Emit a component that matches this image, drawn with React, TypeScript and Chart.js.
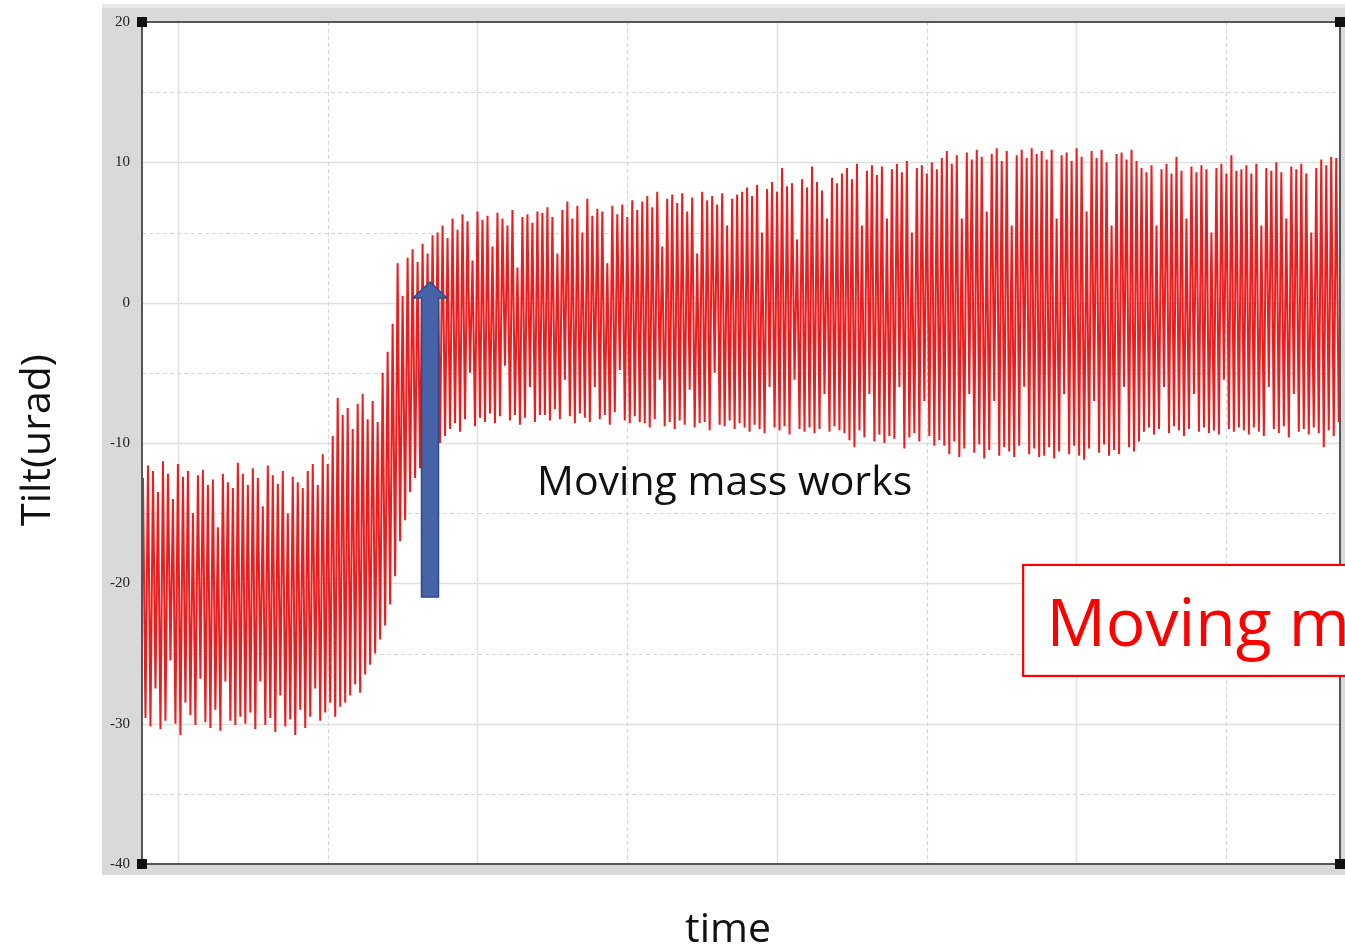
import React, { useEffect, useRef } from 'react';
import { Chart, registerables } from 'chart.js';

Chart.register(...registerables);

// ---- data (one high and one low per oscillation) ----
const PEAKS: number[] = [
  -12.5, -11.6, -12.0, -13.5, -11.3, -12.2, -14.0, -11.5, -12.4, -12.0, -15.0, -12.3, -11.9, -13.0, -12.6, -16.0, -12.2, -12.8, -13.2, -11.4,
  -12.2, -13.0, -11.8, -12.5, -14.5, -11.6, -12.3, -12.9, -12.0, -15.0, -12.4, -12.8, -13.2, -12.0, -11.5, -13.0, -10.8, -11.5, -9.5, -6.8,
  -8.0, -7.5, -9.0, -7.2, -6.5, -8.3, -7.0, -8.5, -5.0, -3.5, -1.5, 2.8, 0.5, 3.2, 3.8, 2.9, 4.2, 3.5, 4.8, 5.0,
  5.5, 4.6, 6.0, 5.2, 6.3, 5.8, 3.0, 6.5, 5.9, 6.2, 4.0, 6.4, 6.0, 5.5, 6.6, 2.5, 6.1, 6.3, 5.7, 6.5,
  6.4, 6.8, 6.1, 3.5, 6.6, 7.2, 6.0, 6.9, 5.0, 7.4, 6.2, 6.7, 6.5, 2.8, 6.9, 6.3, 7.0, 6.1, 7.3, 6.6,
  7.2, 7.6, 6.8, 7.9, 4.0, 7.4, 7.7, 7.1, 7.8, 6.5, 7.5, 3.5, 7.9, 7.3, 7.6, 7.0, 7.8, 5.5, 7.4, 7.7,
  7.9, 8.2, 7.6, 8.4, 5.0, 8.1, 8.6, 7.9, 9.6, 8.3, 8.5, 4.5, 8.8, 8.2, 9.7, 8.6, 8.0, 6.0, 8.9, 8.5,
  9.2, 9.6, 8.8, 9.9, 5.5, 9.4, 9.8, 9.1, 9.7, 6.0, 9.5, 9.9, 9.3, 10.1, 5.0, 9.6, 9.8, 9.2, 10.0, 9.5,
  10.3, 10.8, 9.9, 10.5, 6.0, 10.7, 10.2, 10.9, 10.4, 6.5, 10.6, 11.0, 10.1, 10.8, 5.5, 10.5, 10.9, 10.3, 11.0, 10.6,
  10.8, 10.2, 10.9, 6.0, 10.5, 10.7, 10.1, 11.0, 10.4, 6.5, 10.8, 10.3, 10.9, 10.0, 5.5, 10.6, 10.7, 10.2, 10.9, 10.1,
  9.6, 9.3, 9.8, 5.5, 9.5, 9.9, 9.2, 10.4, 9.4, 6.0, 9.7, 9.3, 9.8, 9.5, 5.0, 9.6, 9.9, 9.2, 10.5, 9.4,
  9.5, 9.8, 9.2, 9.9, 5.5, 9.6, 9.4, 10.0, 9.3, 6.0, 9.7, 9.5, 9.9, 9.2, 5.0, 9.6, 10.2, 9.8, 10.4, 10.3,
];

const TROUGHS: number[] = [
  -29.6, -30.2, -27.5, -30.4, -29.8, -25.5, -30.0, -30.8, -28.5, -29.4, -30.1, -26.8, -29.9, -30.3, -29.0, -30.5, -27.0, -29.8, -30.1, -29.5,
  -30.0, -29.2, -30.4, -27.0, -30.1, -29.6, -30.6, -28.0, -30.2, -29.7, -30.8, -29.0, -30.3, -29.5, -27.5, -29.8, -29.2, -28.5, -29.5, -28.8,
  -28.5, -28.0, -27.2, -27.8, -26.5, -25.8, -25.0, -24.0, -23.0, -21.5, -19.5, -17.0, -15.5, -13.5, -12.5, -11.8, -10.8, -11.2, -9.8, -10.0,
  -9.5, -9.0, -8.6, -9.2, -8.3, -5.0, -8.8, -8.2, -8.5, -7.9, -8.6, -8.1, -4.5, -8.4, -8.0, -8.7, -8.2, -6.0, -8.5, -8.0,
  -8.0, -8.4, -7.6, -8.3, -5.5, -8.1, -8.6, -7.9, -8.2, -8.5, -6.0, -8.3, -8.0, -8.7, -7.8, -4.8, -8.4, -8.6, -8.1, -8.5,
  -8.6, -8.9, -8.3, -5.5, -8.8, -8.5, -9.0, -8.4, -8.7, -6.2, -8.9, -8.6, -8.5, -9.1, -5.0, -8.7, -8.8, -8.4, -9.0, -8.6,
  -8.9, -9.2, -8.7, -9.0, -9.3, -6.0, -8.9, -9.1, -8.8, -9.4, -5.5, -9.0, -9.2, -8.9, -9.3, -9.0, -6.5, -9.2, -8.8, -9.1,
  -9.3, -9.8, -10.3, -9.1, -9.6, -6.5, -9.9, -9.4, -10.0, -9.5, -9.7, -6.0, -10.4, -9.6, -9.3, -9.9, -7.0, -9.5, -10.2, -9.8,
  -10.2, -10.8, -9.9, -11.0, -10.4, -6.5, -10.7, -10.1, -11.1, -10.5, -7.0, -10.9, -10.3, -10.6, -11.0, -10.2, -6.0, -10.8, -10.4, -11.0,
  -10.9, -10.3, -11.1, -10.6, -6.5, -10.8, -10.2, -10.9, -11.2, -10.4, -7.0, -10.7, -10.1, -10.9, -10.5, -10.8, -6.0, -10.3, -10.6, -9.9,
  -9.2, -8.9, -9.4, -9.0, -6.0, -9.3, -8.8, -9.1, -9.5, -9.0, -6.5, -9.2, -8.9, -9.3, -9.1, -9.4, -5.5, -9.0, -9.2, -8.9,
  -9.1, -9.4, -8.9, -9.2, -9.5, -6.0, -9.0, -9.3, -8.8, -9.6, -6.5, -9.2, -9.0, -9.4, -8.9, -9.3, -10.3, -9.1, -9.5, -8.5,
];

// sampling of the record on the time axis
const T_START = -1.167;
const T_STEP = 0.1667;

// axes
const X_MIN = -1.2;
const X_MAX = 38.8;
const Y_MIN = -40;
const Y_MAX = 20;
const Y_STEP = 10;
const X_GRID_SOLID = [0, 10, 20, 30];
const X_GRID_DASHED = [5, 15, 25, 35];
const Y_GRID_SOLID = [10, 0, -10, -20, -30];
const Y_GRID_DASHED = [15, 5, -5, -15, -25, -35];

// texts
const Y_TITLE = 'Tilt(urad)';
const X_TITLE = 'time';
const NOTE_TEXT = 'Moving mass works';
const BOX_TEXT = 'Moving m';

// annotation anchors in data units
const ARROW_T = 8.416;
const ARROW_FROM = -20.97;
const ARROW_TO = 1.47;
const NOTE_T = 11.99;
const NOTE_V = -13.71;
const BOX_T = 28.22;
const BOX_TOP = -18.69;
const BOX_BOTTOM = -26.6;
const BOX_TEXT_T = 29.0;
const BOX_TEXT_V = -24.47;

const TEXT_FONT = '"Open Sans", "Noto Sans", sans-serif';

const decorPlugin = {
  id: 'decor',
  beforeDraw(chart: any) {
    const { ctx, chartArea: a, scales } = chart;
    const xs = scales.x;
    const ys = scales.y;
    ctx.save();
    // grey frame around the plot
    ctx.fillStyle = '#d9d9d9';
    ctx.fillRect(a.left - 40, a.top - 18, chart.width - (a.left - 40), a.bottom - a.top + 29);
    ctx.fillStyle = '#e8e8e8';
    ctx.fillRect(a.left - 40, a.top - 18, chart.width - (a.left - 40), 4);
    // plot background
    ctx.fillStyle = '#ffffff';
    ctx.fillRect(a.left, a.top, a.right - a.left, a.bottom - a.top);
    // grid
    ctx.lineWidth = 1.5;
    ctx.strokeStyle = '#e0e0e0';
    ctx.setLineDash([]);
    for (const v of X_GRID_SOLID) {
      const px = Math.round(xs.getPixelForValue(v)) + 0.5;
      ctx.beginPath(); ctx.moveTo(px, a.top); ctx.lineTo(px, a.bottom); ctx.stroke();
    }
    for (const v of Y_GRID_SOLID) {
      const py = Math.round(ys.getPixelForValue(v)) + 0.5;
      ctx.beginPath(); ctx.moveTo(a.left, py); ctx.lineTo(a.right, py); ctx.stroke();
    }
    ctx.lineWidth = 1.2;
    ctx.strokeStyle = '#d6d6d6';
    ctx.setLineDash([4, 3]);
    for (const v of X_GRID_DASHED) {
      const px = Math.round(xs.getPixelForValue(v)) + 0.5;
      ctx.beginPath(); ctx.moveTo(px, a.top); ctx.lineTo(px, a.bottom); ctx.stroke();
    }
    for (const v of Y_GRID_DASHED) {
      const py = Math.round(ys.getPixelForValue(v)) + 0.5;
      ctx.beginPath(); ctx.moveTo(a.left, py); ctx.lineTo(a.right, py); ctx.stroke();
    }
    ctx.restore();
  },
  afterDatasetsDraw(chart: any) {
    const { ctx, chartArea: a } = chart;
    ctx.save();
    ctx.strokeStyle = '#555555';
    ctx.lineWidth = 2;
    ctx.strokeRect(a.left, a.top, a.right - a.left, a.bottom - a.top);
    // corner markers
    ctx.fillStyle = '#111111';
    const corners = [[a.left, a.top], [a.right, a.top], [a.left, a.bottom], [a.right, a.bottom]];
    for (const [cx, cy] of corners) {
      ctx.fillRect(cx - 5, cy - 5, 10, 10);
    }
    ctx.restore();
  },
  afterDraw(chart: any) {
    const { ctx, scales } = chart;
    const xs = scales.x;
    const ys = scales.y;
    ctx.save();
    // axis titles
    ctx.fillStyle = '#111111';
    ctx.font = `41px ${TEXT_FONT}`;
    ctx.textAlign = 'center';
    ctx.textBaseline = 'alphabetic';
    ctx.fillText(X_TITLE, 728, 942);
    ctx.save();
    ctx.translate(50, 440);
    ctx.rotate(-Math.PI / 2);
    ctx.fillText(Y_TITLE, 0, 0);
    ctx.restore();

    // note text
    ctx.textAlign = 'left';
    ctx.fillText(NOTE_TEXT, xs.getPixelForValue(NOTE_T), ys.getPixelForValue(NOTE_V));

    // arrow
    const ax = xs.getPixelForValue(ARROW_T);
    const yBot = ys.getPixelForValue(ARROW_FROM);
    const yTip = ys.getPixelForValue(ARROW_TO);
    const shaftHalf = 8.5;
    const headHalf = 17;
    const headLen = 16;
    ctx.beginPath();
    ctx.moveTo(ax - shaftHalf, yBot);
    ctx.lineTo(ax - shaftHalf, yTip + headLen);
    ctx.lineTo(ax - headHalf, yTip + headLen);
    ctx.lineTo(ax, yTip);
    ctx.lineTo(ax + headHalf, yTip + headLen);
    ctx.lineTo(ax + shaftHalf, yTip + headLen);
    ctx.lineTo(ax + shaftHalf, yBot);
    ctx.closePath();
    ctx.fillStyle = '#4763a8';
    ctx.fill();
    ctx.strokeStyle = '#2d4a86';
    ctx.lineWidth = 1.5;
    ctx.stroke();

    // red box
    const bx = xs.getPixelForValue(BOX_T);
    const by = ys.getPixelForValue(BOX_TOP);
    const bb = ys.getPixelForValue(BOX_BOTTOM);
    ctx.fillStyle = '#ffffff';
    ctx.fillRect(bx, by, chart.width + 20 - bx, bb - by);
    ctx.strokeStyle = '#ff0000';
    ctx.lineWidth = 2.2;
    ctx.strokeRect(bx, by, chart.width + 20 - bx, bb - by);
    ctx.fillStyle = '#ff0000';
    ctx.font = `66px ${TEXT_FONT}`;
    ctx.fillText(BOX_TEXT, xs.getPixelForValue(BOX_TEXT_T), ys.getPixelForValue(BOX_TEXT_V));
    ctx.restore();
  },
};

export default function App() {
  const canvasRef = useRef<HTMLCanvasElement | null>(null);

  useEffect(() => {
    const canvas = canvasRef.current;
    if (!canvas) return;
    const points: { x: number; y: number }[] = [];
    for (let i = 0; i < PEAKS.length; i++) {
      points.push({ x: T_START + i * T_STEP, y: PEAKS[i] });
      points.push({ x: T_START + (i + 0.5) * T_STEP, y: TROUGHS[i] });
    }
    const chart = new Chart(canvas, {
      type: 'line',
      data: {
        datasets: [
          {
            label: 'Tilt',
            data: points,
            borderColor: '#ee1c1c',
            borderWidth: 2,
            pointRadius: 0,
            tension: 0,
            fill: false,
          },
        ],
      },
      options: {
        responsive: false,
        animation: false,
        events: [],
        layout: { padding: { left: 0, top: 22, right: 5, bottom: 84 } },
        plugins: { legend: { display: false }, tooltip: { enabled: false } },
        scales: {
          x: {
            type: 'linear',
            min: X_MIN,
            max: X_MAX,
            display: false,
          },
          y: {
            type: 'linear',
            min: Y_MIN,
            max: Y_MAX,
            afterFit: (s: any) => {
              s.width = 142;
            },
            ticks: {
              stepSize: Y_STEP,
              padding: 12,
              color: '#222222',
              font: { family: '"Liberation Serif", "DejaVu Serif", serif', size: 15 },
            },
            grid: { display: false, drawTicks: false },
            border: { display: false },
          },
        },
      },
      plugins: [decorPlugin],
    });
    return () => chart.destroy();
  }, []);

  return (
    <div style={{ position: 'fixed', left: 0, top: 0, width: 1345, height: 948, background: '#ffffff' }}>
      <canvas ref={canvasRef} width={1345} height={948} style={{ display: 'block' }} />
    </div>
  );
}
